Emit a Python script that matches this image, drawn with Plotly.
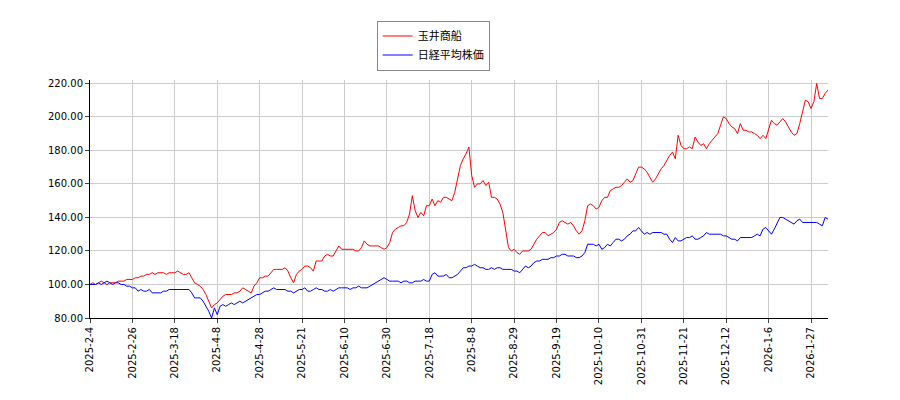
import plotly.graph_objects as go

tick_labels = ["2025-2-4","2025-2-26","2025-3-18","2025-4-8","2025-4-28","2025-5-21","2025-6-10","2025-6-30",
               "2025-7-18","2025-8-8","2025-8-29","2025-9-19","2025-10-10","2025-10-31","2025-11-21",
               "2025-12-12","2026-1-6","2026-1-27"]

tamai = [100,101,100,101,102,101,100,101,101,101,102,102,102,103,103,
         103,104,104,105,105,106,106,107,106,107,107,107,106,107,107,
         107,108,107,106,106,107,104,101,100,99,97,94,90,86,88,
         89,91,93,94,94,94,95,95,96,98,97,96,95,99,101,
         104,104,105,105,107,109,109,109,109,110,108,104,101,106,108,
         109,111,111,110,108,114,114,114,117,118,117,117,120,123,121,
         121,121,121,121,120,120,122,126,124,123,123,123,123,122,121,
         122,125,131,133,134,135,135,137,142,153,144,140,143,141,147,
         147,151,147,150,149,152,152,151,150,155,163,171,175,178,182,
         165,158,160,160,162,159,161,152,152,151,148,143,132,122,120,
         121,119,118,120,120,120,121,124,127,129,131,131,129,130,131,
         133,137,138,137,136,137,135,132,130,132,138,147,148,147,145,
         146,150,152,152,156,157,158,158,159,161,163,161,162,166,170,
         170,169,167,164,161,163,166,169,171,174,177,179,175,189,183,
         181,181,182,181,188,185,183,184,181,184,186,188,190,195,200,
         199,196,194,193,190,196,192,192,191,191,190,189,187,189,187,
         192,198,196,195,197,199,197,194,191,189,190,196,204,210,209,
         205,209,220,211,211,214,216]

nikkei = [100,100,100,101,100,101,102,101,100,101,101,100,100,99,99,
          98,98,96,97,96,96,97,95,95,95,95,96,96,97,97,
          97,97,97,97,97,97,95,92,92,92,90,87,84,80,86,
          82,87,88,87,88,89,88,89,90,89,90,91,92,93,94,
          94,95,96,96,97,98,97,97,97,97,96,96,95,96,97,
          97,98,96,96,97,98,97,97,96,96,97,96,97,98,98,
          98,98,97,98,98,99,98,98,98,99,100,101,102,103,104,
          103,102,102,102,102,101,102,102,101,101,102,102,102,103,102,
          102,106,107,105,105,105,106,104,104,105,106,108,110,110,111,
          111,112,111,110,110,109,109,110,109,110,110,109,109,109,109,
          108,108,107,109,111,110,111,113,114,114,115,115,115,116,116,
          117,117,118,118,117,117,117,116,116,117,119,124,124,124,123,
          124,121,122,124,123,125,127,127,126,127,129,130,132,132,134,
          132,130,131,130,131,131,131,131,130,130,127,125,128,126,126,
          127,128,128,129,127,127,128,129,131,130,130,130,130,130,129,
          129,128,127,127,126,128,128,128,128,128,129,130,129,133,134,
          132,130,133,137,140,140,139,138,137,136,138,139,137,137,137,
          137,137,137,136,135,140,139]

n = len(tamai)
x = list(range(n))
tickvals = [i * 15 for i in range(len(tick_labels))]

fig = go.Figure()
fig.add_trace(go.Scatter(x=x, y=tamai, mode="lines", name="玉井商船", line=dict(color="#ff0000", width=1)))
fig.add_trace(go.Scatter(x=x, y=nikkei, mode="lines", name="日経平均株価", line=dict(color="#0000ff", width=1)))

font = "DejaVu Sans, Noto Sans CJK JP"
fig.update_layout(
    width=900, height=400, margin=dict(l=82, r=80, t=72, b=90, autoexpand=False),
    paper_bgcolor="white", plot_bgcolor="white",
    font=dict(family=font, size=10, color="black"),
    legend=dict(x=0.465, y=1.25, xanchor="center", yanchor="top", bordercolor="#888", borderwidth=1,
                font=dict(size=11)),
    showlegend=True,
)
fig.update_xaxes(range=[0, n - 1], tickvals=tickvals, ticktext=tick_labels, tickangle=-90,
                 showgrid=True, gridcolor="#cccccc", showline=True, linecolor="black",
                 ticks="outside", ticklen=4, zeroline=False, automargin=False)
fig.update_yaxes(range=[80, 222], tickvals=[80,100,120,140,160,180,200,220], tickformat=".2f",
                 showgrid=True, gridcolor="#cccccc", showline=True, linecolor="black",
                 ticks="outside", ticklen=4, zeroline=False, automargin=False)
fig.write_html("out.html")
